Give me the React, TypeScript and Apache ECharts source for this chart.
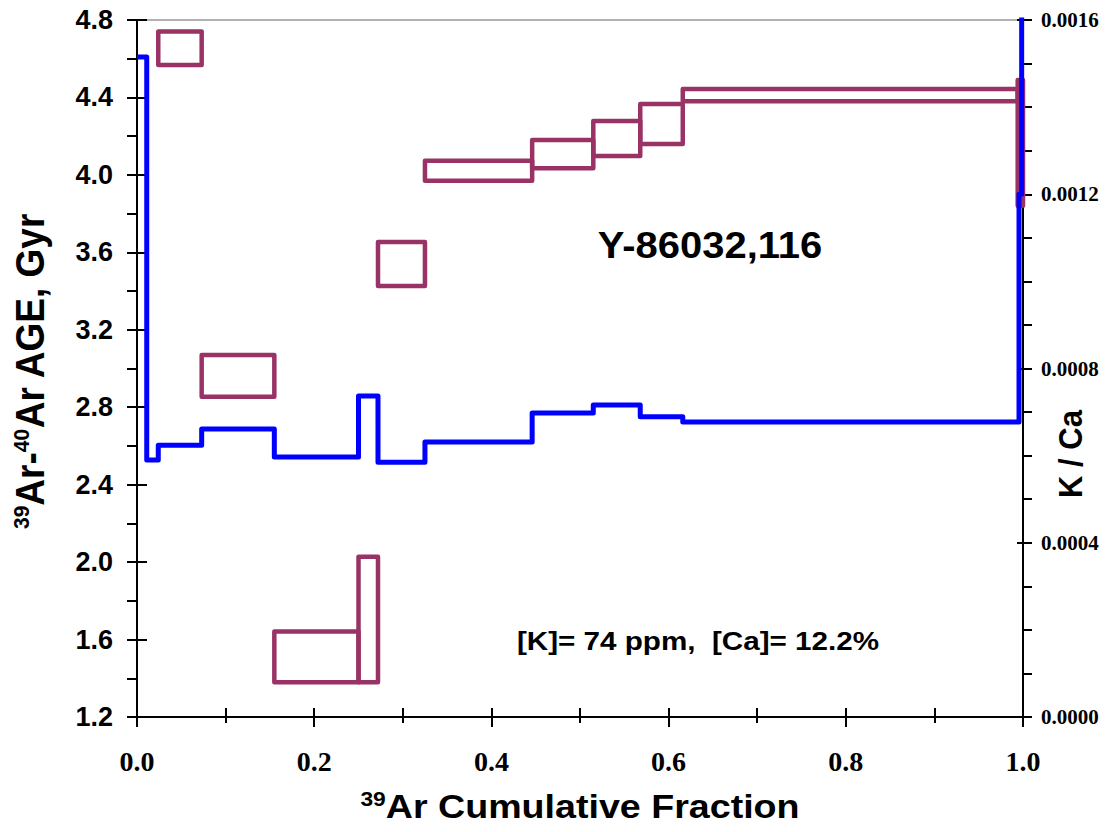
import React, { useEffect, useRef } from "react";
import * as echarts from "echarts";

// step edges of the 39Ar release (cumulative fraction)
const kcaEdges = [0, 0.011, 0.024, 0.073, 0.155, 0.25, 0.272, 0.325, 0.446, 0.515, 0.568, 0.616, 0.9955, 0.9985, 1.0];
// K/Ca value of each step (last one is off scale)
const kcaValues = [0.001515, 0.00059, 0.000624, 0.000661, 0.000597, 0.000737, 0.000585, 0.000631, 0.000698, 0.000716, 0.000689, 0.000677, 0.0012, 0.0018];

// age spectrum boxes
const ageFrom = [0.024, 0.073, 0.155, 0.25, 0.272, 0.325, 0.446, 0.515, 0.568, 0.616, 0.994];
const ageTo = [0.073, 0.155, 0.25, 0.272, 0.325, 0.446, 0.515, 0.568, 0.616, 0.994, 1.0];
const ageLow = [4.568, 2.854, 1.379, 1.379, 3.426, 3.97, 4.034, 4.098, 4.16, 4.38, 3.84];
const ageHigh = [4.74, 3.07, 1.641, 2.028, 3.653, 4.073, 4.18, 4.278, 4.366, 4.444, 4.49];

// axes
const xRange = [0, 1];
const ageRange = [1.2, 4.8];
const kcaRange = [0, 0.0016];

const SANS = "'Liberation Sans', Arial, sans-serif";
const SERIF = "'Liberation Serif', 'Times New Roman', serif";
const MAROON = "#993366";
const BLUE = "#0000ff";

const line = () => ({ show: true, onZero: false, lineStyle: { color: "#000", width: 2 } });
const noLine = () => ({ show: false, onZero: false });
const tick = (inside: boolean, length: number) => ({
  show: true,
  inside,
  length,
  lineStyle: { color: "#000", width: 2 },
});
const minor = (splitNumber: number, length: number) => ({
  show: true,
  splitNumber,
  length,
  lineStyle: { color: "#000", width: 2 },
});

const App: React.FC = () => {
  const chartRef = useRef<HTMLDivElement>(null);

  useEffect(() => {
    if (!chartRef.current) return;
    const chart = echarts.init(chartRef.current, undefined, { renderer: "svg" });

    const boxes = ageFrom.map((f, i) => [f, ageTo[i], ageLow[i], ageHigh[i]]);
    const steps = kcaValues.map((v, i) => [kcaEdges[i], v]);
    steps.push([kcaEdges[kcaEdges.length - 1], kcaValues[kcaValues.length - 1]]);

    const option: echarts.EChartsOption = {
      animation: false,
      backgroundColor: "#fff",
      grid: { left: 137, right: 89, top: 20, bottom: 115, containLabel: false },
      xAxis: [
        {
          type: "value",
          position: "bottom",
          min: xRange[0],
          max: xRange[1],
          interval: 0.2,
          axisLine: line(),
          axisTick: tick(false, 10),
          minorTick: minor(2, 6),
          splitLine: { show: false },
          axisLabel: {
            margin: 30,
            formatter: (v: number) => v.toFixed(1),
            fontFamily: SERIF,
            fontWeight: "bold",
            fontSize: 28,
            color: "#000",
          },
        },
        {
          type: "value",
          position: "bottom",
          min: xRange[0],
          max: xRange[1],
          interval: 0.1,
          axisLine: noLine(),
          axisTick: tick(true, 9),
          axisLabel: { show: false },
          splitLine: { show: false },
        },
        {
          type: "value",
          position: "top",
          min: xRange[0],
          max: xRange[1],
          axisLine: { show: true, onZero: false, lineStyle: { color: "#999", width: 1.5 } },
          axisTick: { show: false },
          axisLabel: { show: false },
          splitLine: { show: false },
        },
      ],
      yAxis: [
        {
          type: "value",
          position: "left",
          min: ageRange[0],
          max: ageRange[1],
          interval: 0.4,
          axisLine: line(),
          axisTick: tick(false, 10),
          minorTick: minor(2, 10),
          splitLine: { show: false },
          axisLabel: {
            margin: 24,
            formatter: (v: number) => v.toFixed(1),
            fontFamily: SANS,
            fontWeight: "bold",
            fontSize: 27,
            color: "#000",
          },
        },
        {
          type: "value",
          position: "left",
          min: ageRange[0],
          max: ageRange[1],
          interval: 0.4,
          axisLine: noLine(),
          axisTick: tick(true, 10),
          axisLabel: { show: false },
          splitLine: { show: false },
        },
        {
          type: "value",
          position: "right",
          min: kcaRange[0],
          max: kcaRange[1],
          interval: 0.0004,
          axisLine: line(),
          axisTick: tick(false, 9),
          minorTick: minor(4, 9),
          splitLine: { show: false },
          axisLabel: {
            margin: 18,
            formatter: (v: number) => v.toFixed(4),
            fontFamily: SERIF,
            fontWeight: "bold",
            fontSize: 21,
            color: "#000",
          },
        },
        {
          type: "value",
          position: "right",
          min: kcaRange[0],
          max: kcaRange[1],
          interval: 0.0004,
          axisLine: noLine(),
          axisTick: tick(true, 6),
          axisLabel: { show: false },
          splitLine: { show: false },
        },
      ],
      series: [
        {
          type: "custom",
          name: "age",
          xAxisIndex: 0,
          yAxisIndex: 0,
          encode: { x: [0, 1], y: [2, 3] },
          data: boxes,
          z: 3,
          renderItem: (params: any, api: any) => {
            const p0 = api.coord([api.value(0), api.value(3)]);
            const p1 = api.coord([api.value(1), api.value(2)]);
            return {
              type: "rect",
              shape: { x: p0[0], y: p0[1], width: p1[0] - p0[0], height: p1[1] - p0[1] },
              style: { fill: "none", stroke: MAROON, lineWidth: 4.5, lineJoin: "round" },
            };
          },
        },
        {
          type: "line",
          name: "K/Ca",
          xAxisIndex: 0,
          yAxisIndex: 2,
          step: "end",
          data: steps,
          symbol: "none",
          clip: true,
          z: 4,
          lineStyle: { color: BLUE, width: 5, join: "round" },
        },
      ],
      graphic: [
        {
          type: "text",
          x: 30,
          y: 371,
          rotation: Math.PI / 2,
          scaleY: 1.08,
          style: {
            text: "{s|39}{m|Ar-}{s|40}{m|Ar AGE, Gyr}",
            align: "center",
            verticalAlign: "middle",
            rich: {
              s: { fontSize: 21, fontFamily: SANS, fontWeight: "bold", fill: "#000", verticalAlign: "top" },
              m: { fontSize: 37, fontFamily: SANS, fontWeight: "bold", fill: "#000" },
            },
          },
        },
        {
          type: "text",
          x: 1071,
          y: 454,
          rotation: Math.PI / 2,
          scaleY: 1.08,
          style: {
            text: "K / Ca",
            align: "center",
            verticalAlign: "middle",
            fontSize: 31,
            fontFamily: SANS,
            fontWeight: "bold",
            fill: "#000",
          },
        },
        {
          type: "text",
          x: 580,
          y: 806,
          scaleX: 1.14,
          style: {
            text: "{s|39}{m|Ar Cumulative Fraction}",
            align: "center",
            verticalAlign: "middle",
            rich: {
              s: { fontSize: 20, fontFamily: SANS, fontWeight: "bold", fill: "#000", verticalAlign: "top" },
              m: { fontSize: 33, fontFamily: SANS, fontWeight: "bold", fill: "#000" },
            },
          },
        },
        {
          type: "text",
          x: 710,
          y: 245,
          scaleX: 1.08,
          style: {
            text: "Y-86032,116",
            align: "center",
            verticalAlign: "middle",
            fontSize: 37,
            fontFamily: SANS,
            fontWeight: "bold",
            fill: "#000",
          },
        },
        {
          type: "text",
          x: 698,
          y: 641,
          scaleX: 1.14,
          style: {
            text: "[K]= 74 ppm,  [Ca]= 12.2%",
            align: "center",
            verticalAlign: "middle",
            fontSize: 26,
            fontFamily: SANS,
            fontWeight: "bold",
            fill: "#000",
          },
        },
      ],
    };

    chart.setOption(option);
    return () => {
      chart.dispose();
    };
  }, []);

  return (
    <div
      ref={chartRef}
      style={{ position: "fixed", left: 0, top: 0, width: "1112px", height: "832px", background: "#fff" }}
    />
  );
};

export default App;
